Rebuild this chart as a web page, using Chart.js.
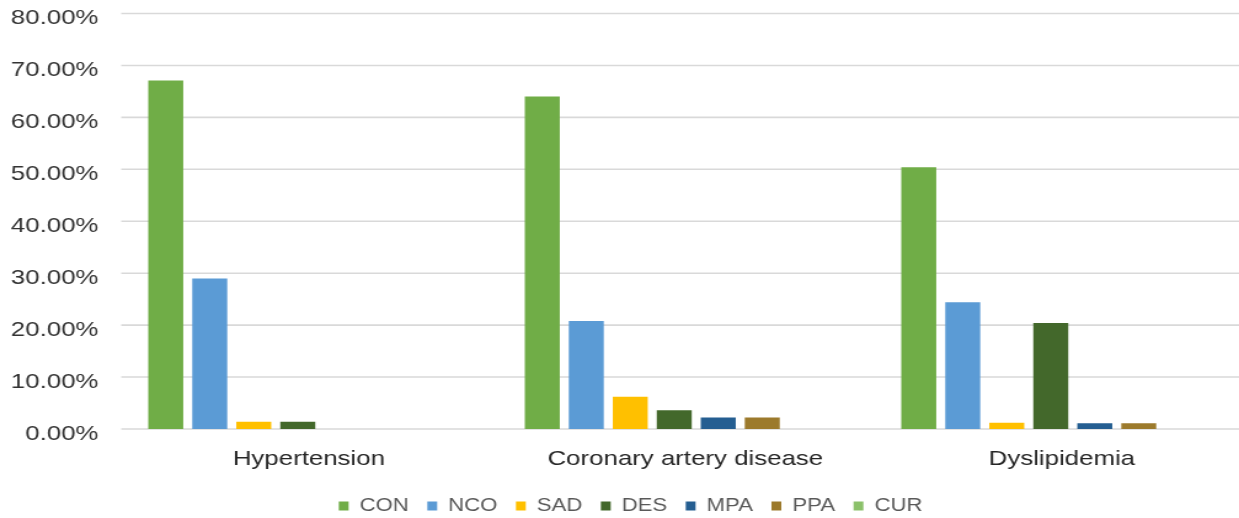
<!DOCTYPE html>
<html>
<head>
<meta charset="utf-8">
<script src="https://cdn.jsdelivr.net/npm/chart.js@4"></script>
<style>
  html, body { margin: 0; padding: 0; background: #ffffff; overflow: hidden; }
  /* chart is laid out narrower and widened horizontally, like the original export */
  #wrap {
    position: absolute; left: 0; top: 0;
    width: 1007px; height: 518px;
    transform: scaleX(1.2304); transform-origin: 0 0;
  }
</style>
</head>
<body>
<div id="wrap"><canvas id="chart"></canvas></div>
<script>
// Categories and series (percent of patients)
const categories = ['Hypertension', 'Coronary artery disease', 'Dyslipidemia'];
const seriesNames = ['CON', 'NCO', 'SAD', 'DES', 'MPA', 'PPA', 'CUR'];
const CON = [67.1, 64.0, 50.4];
const NCO = [29.0, 20.8, 24.4];
const SAD = [1.4, 6.2, 1.2];
const DES = [1.4, 3.6, 20.4];
const MPA = [0, 2.2, 1.1];
const PPA = [0, 2.2, 1.1];
const CUR = [0, 0, 0];
const yTicks = [0, 10, 20, 30, 40, 50, 60, 70, 80];

const seriesValues = [CON, NCO, SAD, DES, MPA, PPA, CUR];
const seriesColors = ['#70AD47', '#5B9BD5', '#FFC000', '#43682B', '#255E91', '#9C7A2C', '#8BC16A'];

// Horizontal gridlines drawn from the y scale, starting a little inside the plot area
const insetGrid = {
  id: 'insetGrid',
  beforeDatasetsDraw(chart, args, opts) {
    const { ctx, chartArea, scales } = chart;
    const y = scales.y;
    ctx.save();
    ctx.strokeStyle = opts.color;
    ctx.lineWidth = opts.width;
    y.ticks.forEach(t => {
      const py = y.getPixelForValue(t.value);
      ctx.beginPath();
      ctx.moveTo(chartArea.left + opts.inset, py);
      ctx.lineTo(chartArea.right, py);
      ctx.stroke();
    });
    ctx.restore();
  }
};

// Nudge the legend row a little to the right of the canvas centre
const legendShift = {
  id: 'legendShift',
  afterLayout(chart, args, opts) {
    if (chart.legend) {
      chart.legend.left += opts.dx;
      chart.legend.right += opts.dx;
    }
  }
};

const axisFont = { family: '"Liberation Sans", Arial, sans-serif', size: 21 };

new Chart(document.getElementById('chart'), {
  type: 'bar',
  data: {
    labels: categories,
    datasets: seriesNames.map((name, i) => ({
      label: name,
      data: seriesValues[i],
      backgroundColor: seriesColors[i],
      borderWidth: 0,
      barPercentage: 0.795,
      categoryPercentage: 0.818
    }))
  },
  options: {
    responsive: true,
    maintainAspectRatio: false,
    animation: false,
    layout: { padding: { top: 13.5, right: 0, bottom: -7, left: 0 } },
    scales: {
      x: {
        grid: { display: false, drawTicks: false },
        border: { display: false },
        ticks: { color: '#262626', font: axisFont, padding: 18, labelOffset: 9, maxRotation: 0, autoSkip: false },
        afterFit(scale) { scale.height = 53; }
      },
      y: {
        min: 0,
        max: 80,
        afterBuildTicks(scale) { scale.ticks = yTicks.map(v => ({ value: v })); },
        grid: { display: false, drawTicks: false },
        border: { display: false },
        ticks: {
          color: '#333333',
          font: axisFont,
          padding: 9,
          labelOffset: 5,
          callback: v => v.toFixed(2) + '%'
        },
        afterFit(scale) {
          scale.width = 89;
          scale.paddingTop = 0;
          scale.paddingBottom = 0;
        }
      }
    },
    plugins: {
      insetGrid: { color: '#d9d9d9', width: 1.6, inset: 9.5 },
      legendShift: { dx: 9 },
      legend: {
        position: 'bottom',
        labels: {
          boxWidth: 8,
          boxHeight: 9,
          padding: 15,
          color: '#595959',
          font: { family: '"Liberation Sans", Arial, sans-serif', size: 18 }
        }
      },
      tooltip: { enabled: false }
    }
  },
  plugins: [insetGrid, legendShift]
});
</script>
</body>
</html>
